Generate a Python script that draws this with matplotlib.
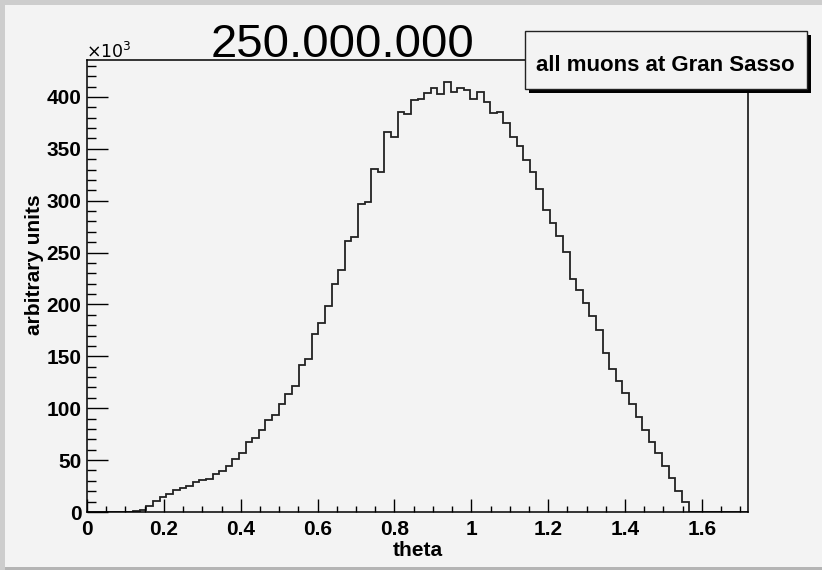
import numpy as np
import matplotlib
matplotlib.use("Agg")
import matplotlib.pyplot as plt
from matplotlib.patches import Rectangle

plt.rcParams['font.family'] = ['Liberation Sans', 'DejaVu Sans']

# histogram: 100 bins of theta between 0 and 1.72, counts in units of 10^3
n_bins = 100
theta_min, theta_max = 0.0, 1.72
counts_k = [
    0, 0, 0, 0, 0, 0, 0, 0.6, 2.2, 5.4,
    10.2, 14.1, 17.3, 20.8, 23.1, 25.3, 28.9, 30.4, 32.1, 36.9,
    39.5, 44.8, 51.4, 56.6, 67.1, 71.3, 78.6, 88.9, 93.4, 104.0,
    113.3, 121.0, 141.9, 147.7, 171.1, 182.3, 198.7, 219.3, 233.4, 261.4,
    264.6, 297.0, 298.3, 330.7, 327.2, 365.7, 361.8, 385.9, 383.9, 396.7,
    397.9, 403.3, 408.1, 402.7, 414.8, 404.6, 408.1, 407.1, 397.9, 404.6,
    395.3, 384.0, 385.9, 374.8, 361.8, 352.2, 339.4, 327.2, 311.2, 291.2,
    278.4, 265.5, 250.8, 224.8, 213.5, 201.3, 189.1, 175.6, 153.6, 137.5,
    126.2, 114.3, 103.7, 91.1, 79.3, 67.7, 56.5, 43.9, 33.0, 20.5,
    9.2, 0, 0, 0, 0, 0, 0, 0, 0, 0,
]
x_ticks = [0, 0.2, 0.4, 0.6, 0.8, 1.0, 1.2, 1.4, 1.6]
x_ticklabels = ["0", "0.2", "0.4", "0.6", "0.8", "1", "1.2", "1.4", "1.6"]
y_ticks = [0, 50, 100, 150, 200, 250, 300, 350, 400]

title = "250.000.000"
legend_text = "all muons at Gran Sasso"

W, H = 822, 570
fig = plt.figure(figsize=(W / 100, H / 100), dpi=100)
fig.patch.set_facecolor("#cdcdcd")

def px_rect(x0, y0, x1, y1, **kw):
    # rectangle given in pixel coords from top-left
    return Rectangle((x0 / W, 1 - y1 / H), (x1 - x0) / W, (y1 - y0) / H,
                     transform=fig.transFigure, **kw)

# pad
fig.add_artist(px_rect(5, 5, W, 567, facecolor="#f3f3f3", edgecolor="none", zorder=-5))
fig.add_artist(px_rect(5, 567, W, H, facecolor="#b4b4b4", edgecolor="none", zorder=-5))

ax = fig.add_axes([87 / W, 1 - 512 / H, (748 - 87) / W, (512 - 60) / H])
ax.set_facecolor("#f3f3f3")

edges = np.linspace(theta_min, theta_max, n_bins + 1)
ax.stairs(counts_k, edges, color="#222222", lw=1.3)

ax.set_xlim(theta_min, theta_max)
ax.set_ylim(0, max(counts_k) * 1.05)

ax.set_xticks(x_ticks)
ax.set_xticklabels(x_ticklabels, fontsize=15, fontweight="bold")
ax.set_xticks(np.arange(0, 1.72, 0.05), minor=True)
ax.set_yticks(y_ticks)
ax.set_yticklabels([str(v) for v in y_ticks], fontsize=15, fontweight="bold")
ax.set_yticks(np.arange(0, 436, 10), minor=True)

ax.tick_params(axis="x", which="major", direction="in", length=9.7, width=1, pad=6, top=False)
ax.tick_params(axis="x", which="minor", direction="in", length=4.5, width=1, top=False)
ax.tick_params(axis="y", which="major", direction="in", length=14.8, width=1, pad=4, right=False)
ax.tick_params(axis="y", which="minor", direction="in", length=6.8, width=1, right=False)
for s in ax.spines.values():
    s.set_linewidth(1.1)
    s.set_color("black")

ax.set_xlabel("theta", fontsize=15, fontweight="bold", labelpad=1)
fig.text(34 / W, 1 - 265 / H, "arbitrary units", rotation=90, fontsize=15,
         fontweight="bold", ha="center", va="center")
fig.text(86 / W, 1 - 58 / H, r"$\times10^{3}$", fontsize=12.5, ha="left", va="baseline")

fig.text(342 / W, 1 - 56.7 / H, title, fontsize=34, ha="center", va="baseline")

# legend box with shadow
fig.add_artist(px_rect(529, 35, 811, 93, facecolor="black", edgecolor="none", zorder=5))
fig.add_artist(px_rect(525, 31, 807, 88.5, facecolor="#f3f3f3", edgecolor="#222222",
                       lw=1, zorder=6))
fig.text(665 / W, 1 - 70.7 / H, legend_text, fontsize=16, fontweight="bold",
         ha="center", va="baseline", zorder=7)

fig.savefig("out.png", dpi=100)
